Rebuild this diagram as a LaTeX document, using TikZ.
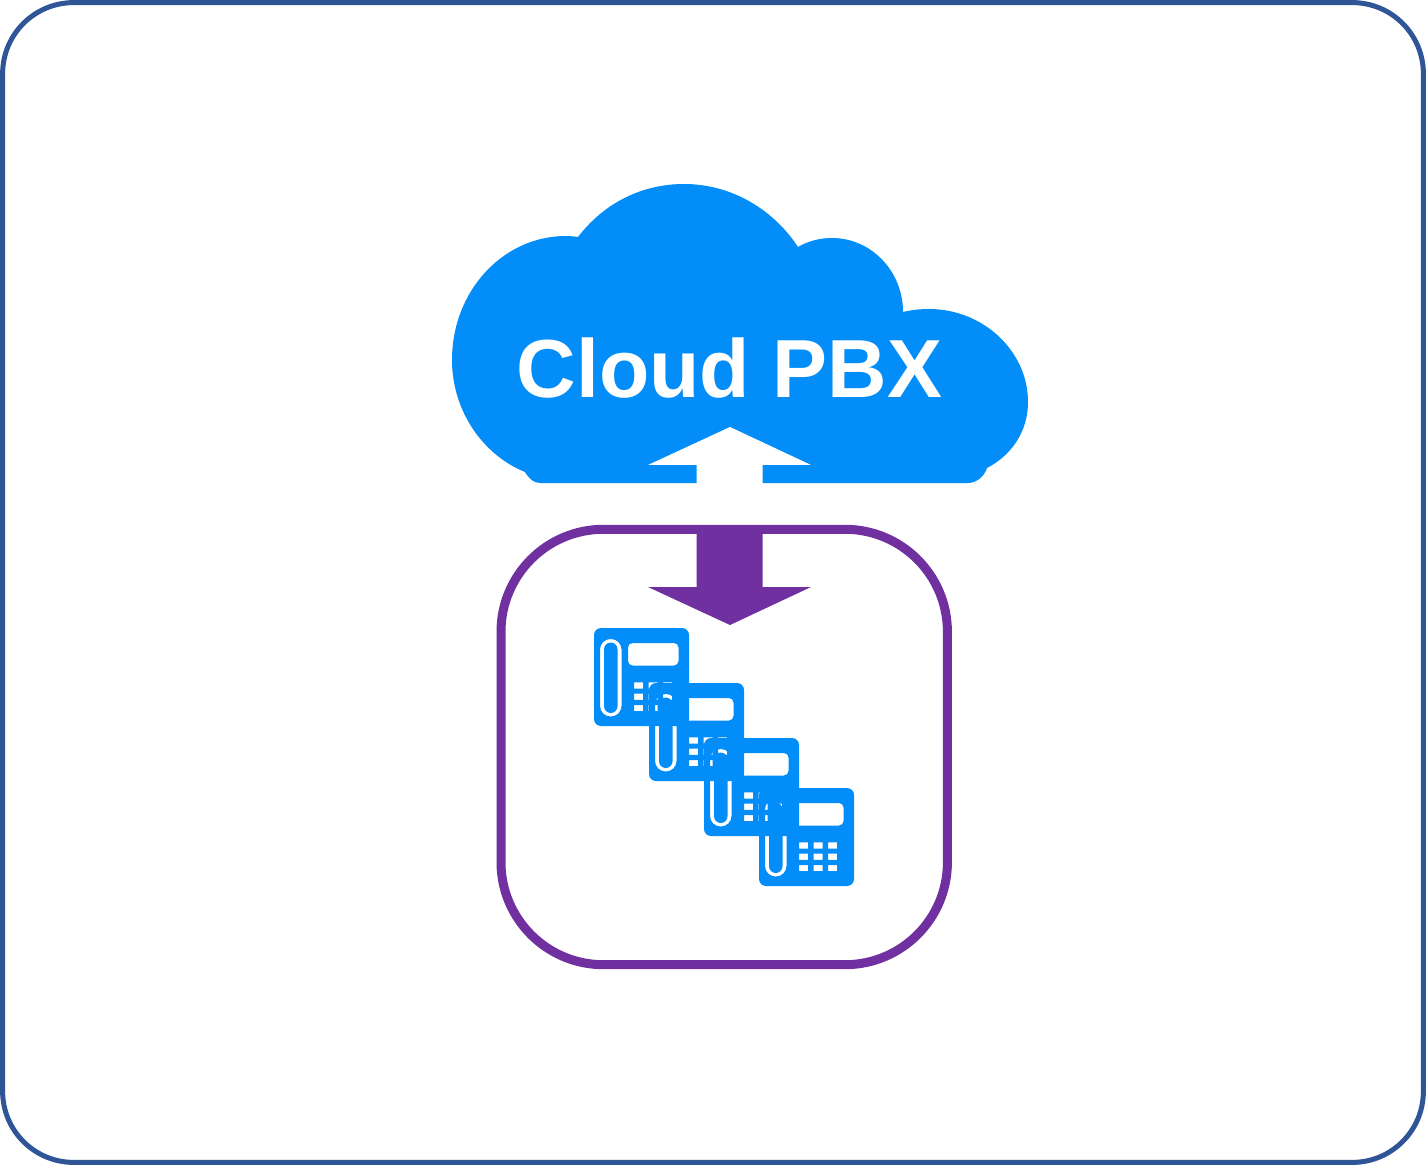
\documentclass[tikz,border=0pt]{standalone}
\usepackage{fontspec}
\setmainfont{Liberation Sans}
\usepackage{xcolor}
\usepackage{tikz}
\usetikzlibrary{positioning}
\definecolor{cloudblue}{HTML}{038DF9}
\definecolor{framepurple}{HTML}{7030A0}
\definecolor{frameblue}{HTML}{2F5597}

\begin{document}
\begin{tikzpicture}[
    x=0.02cm,
    y=-0.02cm,
    outerframe/.style={
        rectangle,
        rounded corners=1.42cm,
        draw=frameblue,
        line width=0.1cm,
        fill=white,
        minimum width=28.42cm,
        minimum height=23.2cm,
        inner sep=0pt
    },
    sitebox/.style={
        rectangle,
        rounded corners=2.05cm,
        draw=framepurple,
        line width=0.18cm,
        minimum width=8.93cm,
        minimum height=8.71cm,
        inner sep=0pt
    },
    cloudtext/.style={
        text=white,
        font=\fontsize{46.9}{50}\selectfont\bfseries,
        inner sep=0pt
    },
    uparrow/.style={
        fill=white
    },
    downarrow/.style={
        fill=framepurple
    },
    pics/phoneicon/.style={
        code={
            \fill[cloudblue, even odd rule]
                [rounded corners=0.14cm] (0,0) rectangle (95,98)
                [rounded corners=0.21cm] (6,11) rectangle (27.5,88.5)
                [rounded corners=0.135cm] (10,14.5) rectangle (23.5,85)
                [rounded corners=0.09cm] (34,15) rectangle (84.5,37.5)
                [sharp corners]
                foreach \cellx in {40,54.5,69} {
                    foreach \celly in {54.3,65.7,77} {
                        (\cellx,\celly) rectangle ++(9,6.2)
                    }
                };
        }
    }
]

\useasboundingbox (0,0) rectangle (1426,1165);

% =========================
% Frames
% =========================

\node[outerframe] (page) at (713,582.5) {};

\node[sitebox] (site) at (724.2,747) {};

% =========================
% Cloud
% =========================

\fill[cloudblue] (578,237)
    .. controls (604,203) and (642,184) .. (684,184)
    .. controls (731,184) and (773,209) .. (798,247)
    .. controls (808,241) and (820,238) .. (832,238)
    .. controls (871,238) and (903,271) .. (903,312)
    .. controls (911,310) and (920,309) .. (929,309)
    .. controls (983,309) and (1028,351) .. (1028,402)
    .. controls (1028,431) and (1012,455) .. (987,468)
    .. controls (984,477) and (976,483) .. (968,483)
    -- (540,483)
    .. controls (534,483) and (529,479) .. (525,472)
    .. controls (483,455) and (452,411) .. (452,360)
    .. controls (452,291) and (503,236) .. (566,236)
    .. controls (570,236) and (574,236.5) .. (578,237)
    -- cycle;

\node[cloudtext] (cloudlabel) at (729.5,368) {Cloud PBX};

% =========================
% Double arrow
% =========================

\fill[uparrow] (730,427) -- (811,465) -- (762.5,465) -- (762.5,485)
    -- (696.5,485) -- (696.5,465) -- (648,465) -- cycle;

\fill[downarrow] (696.5,530) -- (762.5,530) -- (762.5,587) -- (811,587)
    -- (730,625) -- (648,587) -- (696.5,587) -- cycle;

% =========================
% Phones, last one underneath
% =========================

\pic (phonefour) at (759,788) {phoneicon};
\pic (phonethree) at (704,738) {phoneicon};
\pic (phonetwo) at (649,683) {phoneicon};
\pic (phoneone) at (594,628) {phoneicon};

\end{tikzpicture}
\end{document}
